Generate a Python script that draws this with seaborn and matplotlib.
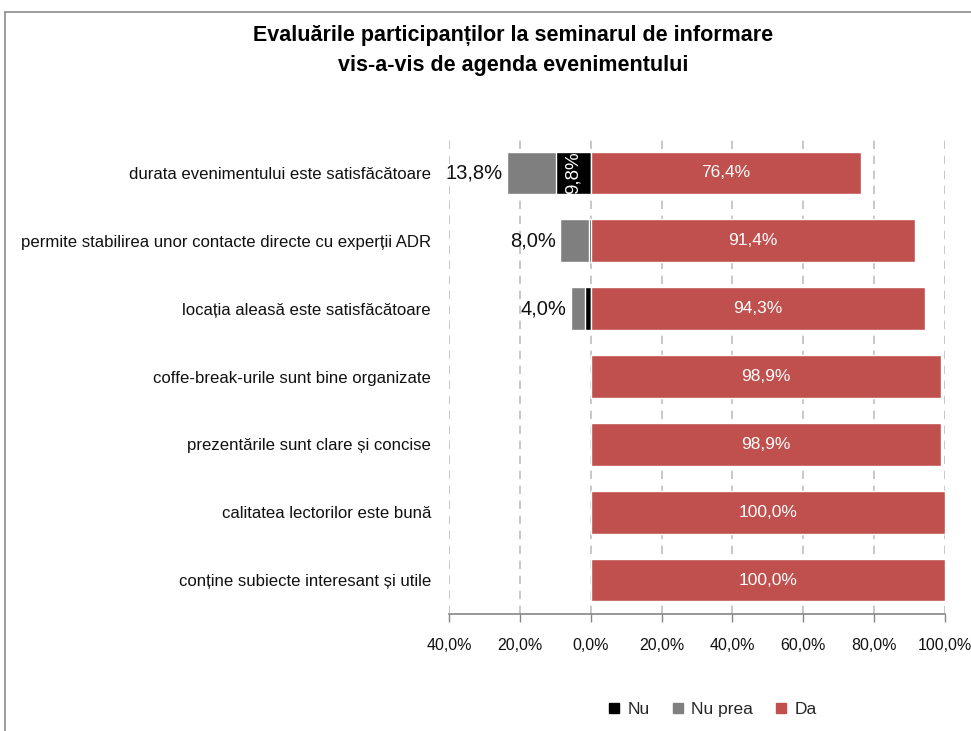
import matplotlib
matplotlib.use("Agg")
import matplotlib.pyplot as plt
import seaborn as sns
import pandas as pd
from matplotlib.lines import Line2D

categories = [
    "durata evenimentului este satisfăcătoare",
    "permite stabilirea unor contacte directe cu experții ADR",
    "locația aleasă este satisfăcătoare",
    "coffe-break-urile sunt bine organizate",
    "prezentările sunt clare și concise",
    "calitatea lectorilor este bună",
    "conține subiecte interesant și utile",
]
nu = [9.8, 0.6, 1.7, 0.0, 0.0, 0.0, 0.0]
nu_prea = [13.8, 8.0, 4.0, 0.0, 0.0, 0.0, 0.0]
da = [76.4, 91.4, 94.3, 98.9, 98.9, 100.0, 100.0]
series_names = ["Nu", "Nu prea", "Da"]
tick_values = [-40, -20, 0, 20, 40, 60, 80, 100]
tick_labels = ["40,0%", "20,0%", "0,0%", "20,0%", "40,0%", "60,0%", "80,0%", "100,0%"]

colors = {"Nu": "#000000", "Nu prea": "#7F7F7F", "Da": "#C0504D"}

sns.set_theme(style="white")
plt.rcParams["font.family"] = ["Liberation Sans", "DejaVu Sans"]

df = pd.DataFrame({
    "cat": categories,
    "nu_neg": [-v for v in nu],
    "total_neg": [-(a + b) for a, b in zip(nu, nu_prea)],
    "da": da,
})

fig = plt.figure(figsize=(9.71, 7.31), dpi=100)
ax = fig.add_axes([449 / 971, 1 - 614 / 731, (945 - 449) / 971, (614 - 139) / 731])

bw = 0.63
sns.barplot(data=df, x="total_neg", y="cat", orient="h", color=colors["Nu prea"],
            width=bw, edgecolor="white", linewidth=1.0, ax=ax, saturation=1)
sns.barplot(data=df, x="nu_neg", y="cat", orient="h", color=colors["Nu"],
            width=bw, edgecolor="white", linewidth=1.0, ax=ax, saturation=1)
sns.barplot(data=df, x="da", y="cat", orient="h", color=colors["Da"],
            width=bw, edgecolor="white", linewidth=1.0, ax=ax, saturation=1)

ax.set_xlim(-40, 100)
ax.set_ylim(len(categories) - 0.5, -0.5)
ax.set_xlabel("")
ax.set_ylabel("")

# gridlines
for t in tick_values:
    ax.axvline(t, color="#BFBFBF", linestyle=(0, (5, 4)), linewidth=1.2, zorder=0)
ax.set_axisbelow(True)

ax.set_xticks(tick_values)
ax.set_xticklabels(tick_labels, fontsize=11.5, color="#111111")
ax.tick_params(axis="x", bottom=True, length=6, width=1, color="#868686", pad=11)
ax.tick_params(axis="y", left=False, pad=7)
ax.set_yticks(range(len(categories)))
ax.set_yticklabels(categories, fontsize=12.1, color="#111111")

for s in ["top", "right", "left"]:
    ax.spines[s].set_visible(False)
ax.spines["bottom"].set_color("#868686")
ax.spines["bottom"].set_linewidth(1.2)

# labels
for i in range(len(categories)):
    ax.text(da[i] / 2, i, f"{da[i]:.1f}%".replace(".", ","), color="white",
            ha="center", va="center", fontsize=12.5)
    if nu_prea[i] >= 1:
        left = -(nu[i] + nu_prea[i])
        ax.text(left - 1.3, i, f"{nu_prea[i]:.1f}%".replace(".", ","), color="#111111",
                ha="right", va="center", fontsize=14.5)
    if nu[i] >= 5:
        ax.text(-nu[i] / 2, i, f"{nu[i]:.1f}%".replace(".", ","), color="white",
                ha="center", va="center", fontsize=13.5, rotation=90)

# title
fig.text(513 / 971, 1 - 35 / 731, "Evaluările participanților la seminarul de informare",
         ha="center", va="center", fontsize=15.5, fontweight="bold", color="#000000")
fig.text(513 / 971, 1 - 66 / 731, "vis-a-vis de agenda evenimentului",
         ha="center", va="center", fontsize=15.5, fontweight="bold", color="#000000")

# legend
handles = [Line2D([0], [0], marker="s", linestyle="none", markersize=7,
                  markerfacecolor=colors[n], markeredgecolor=colors[n]) for n in series_names]
fig.legend(handles, series_names, loc="center", bbox_to_anchor=(712 / 971, 1 - 709 / 731),
           ncol=3, frameon=False, fontsize=12.5, handlelength=0.8, handletextpad=0.4,
           columnspacing=1.2)

# chart border
fig.add_artist(Line2D([5 / 971, 5 / 971], [0, 1 - 12 / 731], transform=fig.transFigure,
                      color="#8C8C8C", linewidth=1.2))
fig.add_artist(Line2D([5 / 971, 1], [1 - 12 / 731, 1 - 12 / 731], transform=fig.transFigure,
                      color="#8C8C8C", linewidth=1.2))

fig.savefig("out.png", dpi=100)
